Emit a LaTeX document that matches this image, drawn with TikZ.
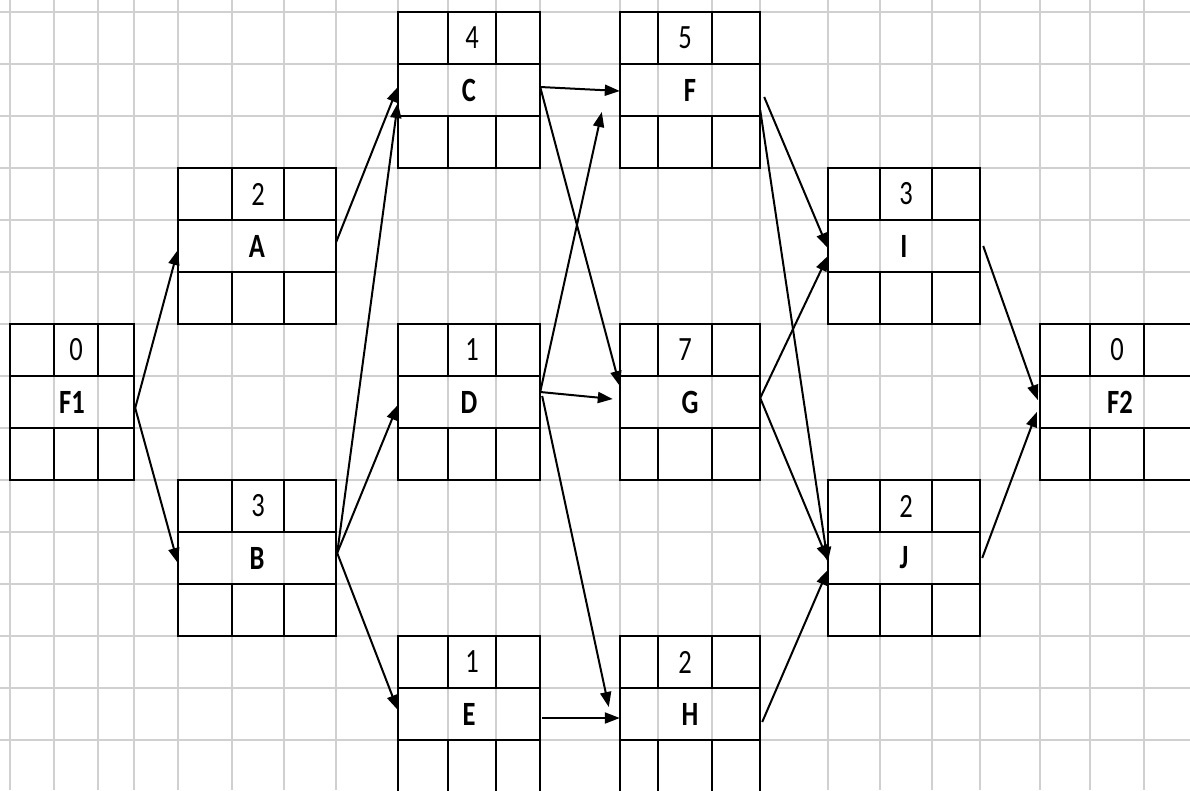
\documentclass[tikz,border=0pt]{standalone}
\usepackage{fontspec}
\newfontfamily\cellfont{Carlito}[FakeStretch=0.78]
\usetikzlibrary{arrows.meta,calc}
\definecolor{GridGray}{RGB}{208,208,208}
\tikzset{
  gridline/.style={GridGray,line width=2.2pt},
  cellline/.style={black,line width=2.8pt},
  durtext/.style={font=\cellfont\fontsize{34}{38}\selectfont,inner sep=0pt},
  acttext/.style={font=\cellfont\bfseries\fontsize{34}{38}\selectfont,
                  inner sep=0pt,minimum height=52pt},
  link/.style={-{Triangle[length=15pt,width=11pt]},line width=2pt,black},
}

\begin{document}
\begin{tikzpicture}[x=1pt,y=-1pt]
  \useasboundingbox (0,0) rectangle (1190,790);
  \clip (0,0) rectangle (1190,790);
  \fill[white] (0,0) rectangle (1190,790);
  % sheet grid
  \foreach \gx in {10,54,98,134,178,232,284,336,398,448,496,540,620,658,712,760,828,880,932,980,1040,1090,1144}
    \draw[gridline] (\gx,0) -- (\gx,790);
  \foreach \gy in {12,64,...,792}
    \draw[gridline] (0,\gy) -- (1190,\gy);
  % activity boxes
  \foreach \n/\xa/\xb/\xc/\xd/\yt/\du in {F1/10/54/98/134/324/0,
      A/178/232/284/336/168/2, B/178/232/284/336/480/3,
      C/398/448/496/540/12/4, D/398/448/496/540/324/1, E/398/448/496/540/636/1,
      F/620/658/712/760/12/5, G/620/658/712/760/324/7, H/620/658/712/760/636/2,
      I/828/880/932/980/168/3, J/828/880/932/980/480/2,
      F2/1040/1090/1144/1200/324/0}
  {
    \draw[cellline] (\xa,\yt) rectangle (\xd,\yt+156);
    \draw[cellline] (\xa,\yt+52) -- (\xd,\yt+52) (\xa,\yt+104) -- (\xd,\yt+104);
    \draw[cellline] (\xb,\yt) -- (\xb,\yt+52) (\xc,\yt) -- (\xc,\yt+52);
    \draw[cellline] (\xb,\yt+104) -- (\xb,\yt+156) (\xc,\yt+104) -- (\xc,\yt+156);
    \node[durtext] at ({(\xb+\xc)/2},\yt+26) {\du};
    \node[acttext,minimum width={(\xd-\xa)*1pt}] (\n) at ({(\xa+\xd)/2},\yt+78) {\n};
  }
  % precedence links
  \foreach \s/\sx/\sy/\t/\tx/\ty in {F1/1/6/A/0/4, F1/1/6/B/0/5,
      A/0/-4/C/0/-3, B/1/-5/C/0/13, B/1/-5/D/0/3, B/1/-5/E/0/-4,
      C/0/-3/F/0/1, C/0/-3/G/0/-16, D/0/-10/F/-18/22, D/0/-10/G/-7/-3,
      D/2/-6/H/-11/-7, E/2/4/H/0/4, F/4/7/I/0/2, F/0/20/J/0/4,
      G/0/-4/I/0/10, G/0/-4/J/0/2, H/2/8/J/0/12,
      I/3/0/F2/-2/-2, J/2/0/F2/-3/10}
    \draw[link] ($(\s.east)+(\sx,\sy)$) -- ($(\t.west)+(\tx,\ty)$);
\end{tikzpicture}
\end{document}
